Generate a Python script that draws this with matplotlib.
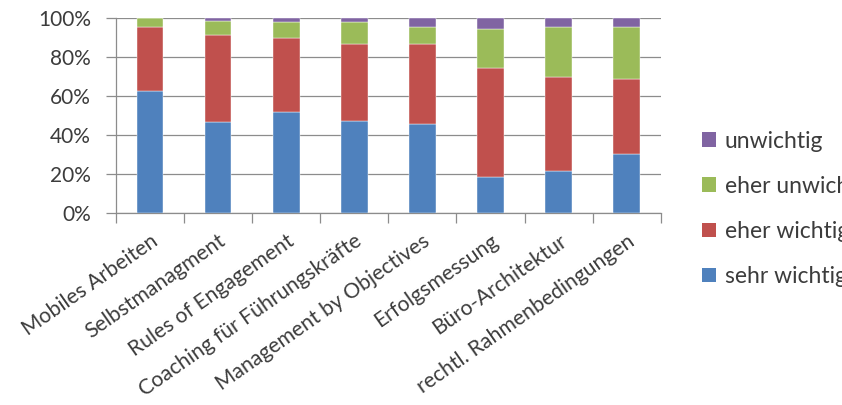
"""Gestapeltes Balkendiagramm: Wichtigkeit der Themen (100 %)."""

import matplotlib.pyplot as plt
import numpy as np
from matplotlib.patches import Patch
from matplotlib.ticker import PercentFormatter

plt.rcParams["font.family"] = ["Lato", "DejaVu Sans"]

themen = [
    "Mobiles Arbeiten",
    "Selbstmanagment",
    "Rules of Engagement",
    "Coaching für Führungskräfte",
    "Management by Objectives",
    "Erfolgsmessung",
    "Büro-Architektur",
    "rechtl. Rahmenbedingungen",
]

# Anteile in Prozent, von unten nach oben gestapelt
sehr_wichtig = [62.6, 46.5, 51.6, 47.0, 45.5, 18.2, 21.3, 30.0]
eher_wichtig = [32.8, 44.7, 38.4, 39.9, 41.4, 56.4, 48.3, 38.8]
eher_unwichtig = [4.6, 7.6, 8.1, 11.2, 8.5, 19.9, 25.8, 26.6]
unwichtig = [0.0, 1.2, 1.9, 1.9, 4.6, 5.5, 4.6, 4.6]

serien = [
    ("sehr wichtig", sehr_wichtig, "#4F81BD"),
    ("eher wichtig", eher_wichtig, "#C0504D"),
    ("eher unwichtig", eher_unwichtig, "#9BBB59"),
    ("unwichtig", unwichtig, "#8064A2"),
]

textfarbe = "#3c3c3c"
gitter = "#8c8c8c"

fig = plt.figure(figsize=(8.42, 4.05), dpi=100)
ax = fig.add_axes([0.1378, 0.4748, 0.6469, 0.48])

x = np.arange(len(themen))
boden = np.zeros(len(themen))
for name, werte, farbe in serien:
    werte = np.array(werte)
    ax.bar(x, werte, bottom=boden, width=0.39, color=farbe,
           edgecolor="white", linewidth=0.3, zorder=3)
    boden += werte

ax.set_xlim(-0.5, len(themen) - 0.5)
ax.set_ylim(0, 100)
ax.set_yticks(np.arange(0, 101, 20))
ax.yaxis.set_major_formatter(PercentFormatter(decimals=0))
ax.grid(axis="y", color=gitter, linewidth=0.9, zorder=0)

# Kategorie-Trennstriche unterhalb der Achse
ax.set_xticks(np.arange(-0.5, len(themen)), minor=False)
ax.set_xticklabels([])
ax.set_xticks(x, minor=True)
ax.set_xticklabels(themen, minor=True, rotation=35, ha="right",
                   rotation_mode="anchor", fontsize=15.2, color=textfarbe)
ax.tick_params(axis="x", which="major", length=7, color=gitter, width=0.9)
ax.tick_params(axis="x", which="minor", length=0, pad=13)
ax.tick_params(axis="y", length=7, color=gitter, width=0.9,
               labelsize=15, labelcolor=textfarbe, pad=11)

for seite in ["top", "right"]:
    ax.spines[seite].set_visible(False)
for seite in ["left", "bottom"]:
    ax.spines[seite].set_color(gitter)
    ax.spines[seite].set_linewidth(0.9)

handles = [Patch(facecolor=f, edgecolor="none", label=n) for n, _, f in serien[::-1]]
fig.legend(handles=handles, loc="center left", bbox_to_anchor=(0.8337, 0.484),
           frameon=False, fontsize=16.5, labelcolor=textfarbe,
           handlelength=0.62, handleheight=0.62, handletextpad=0.38,
           labelspacing=1.05, borderaxespad=0, borderpad=0)

fig.savefig("out.png", dpi=100)
